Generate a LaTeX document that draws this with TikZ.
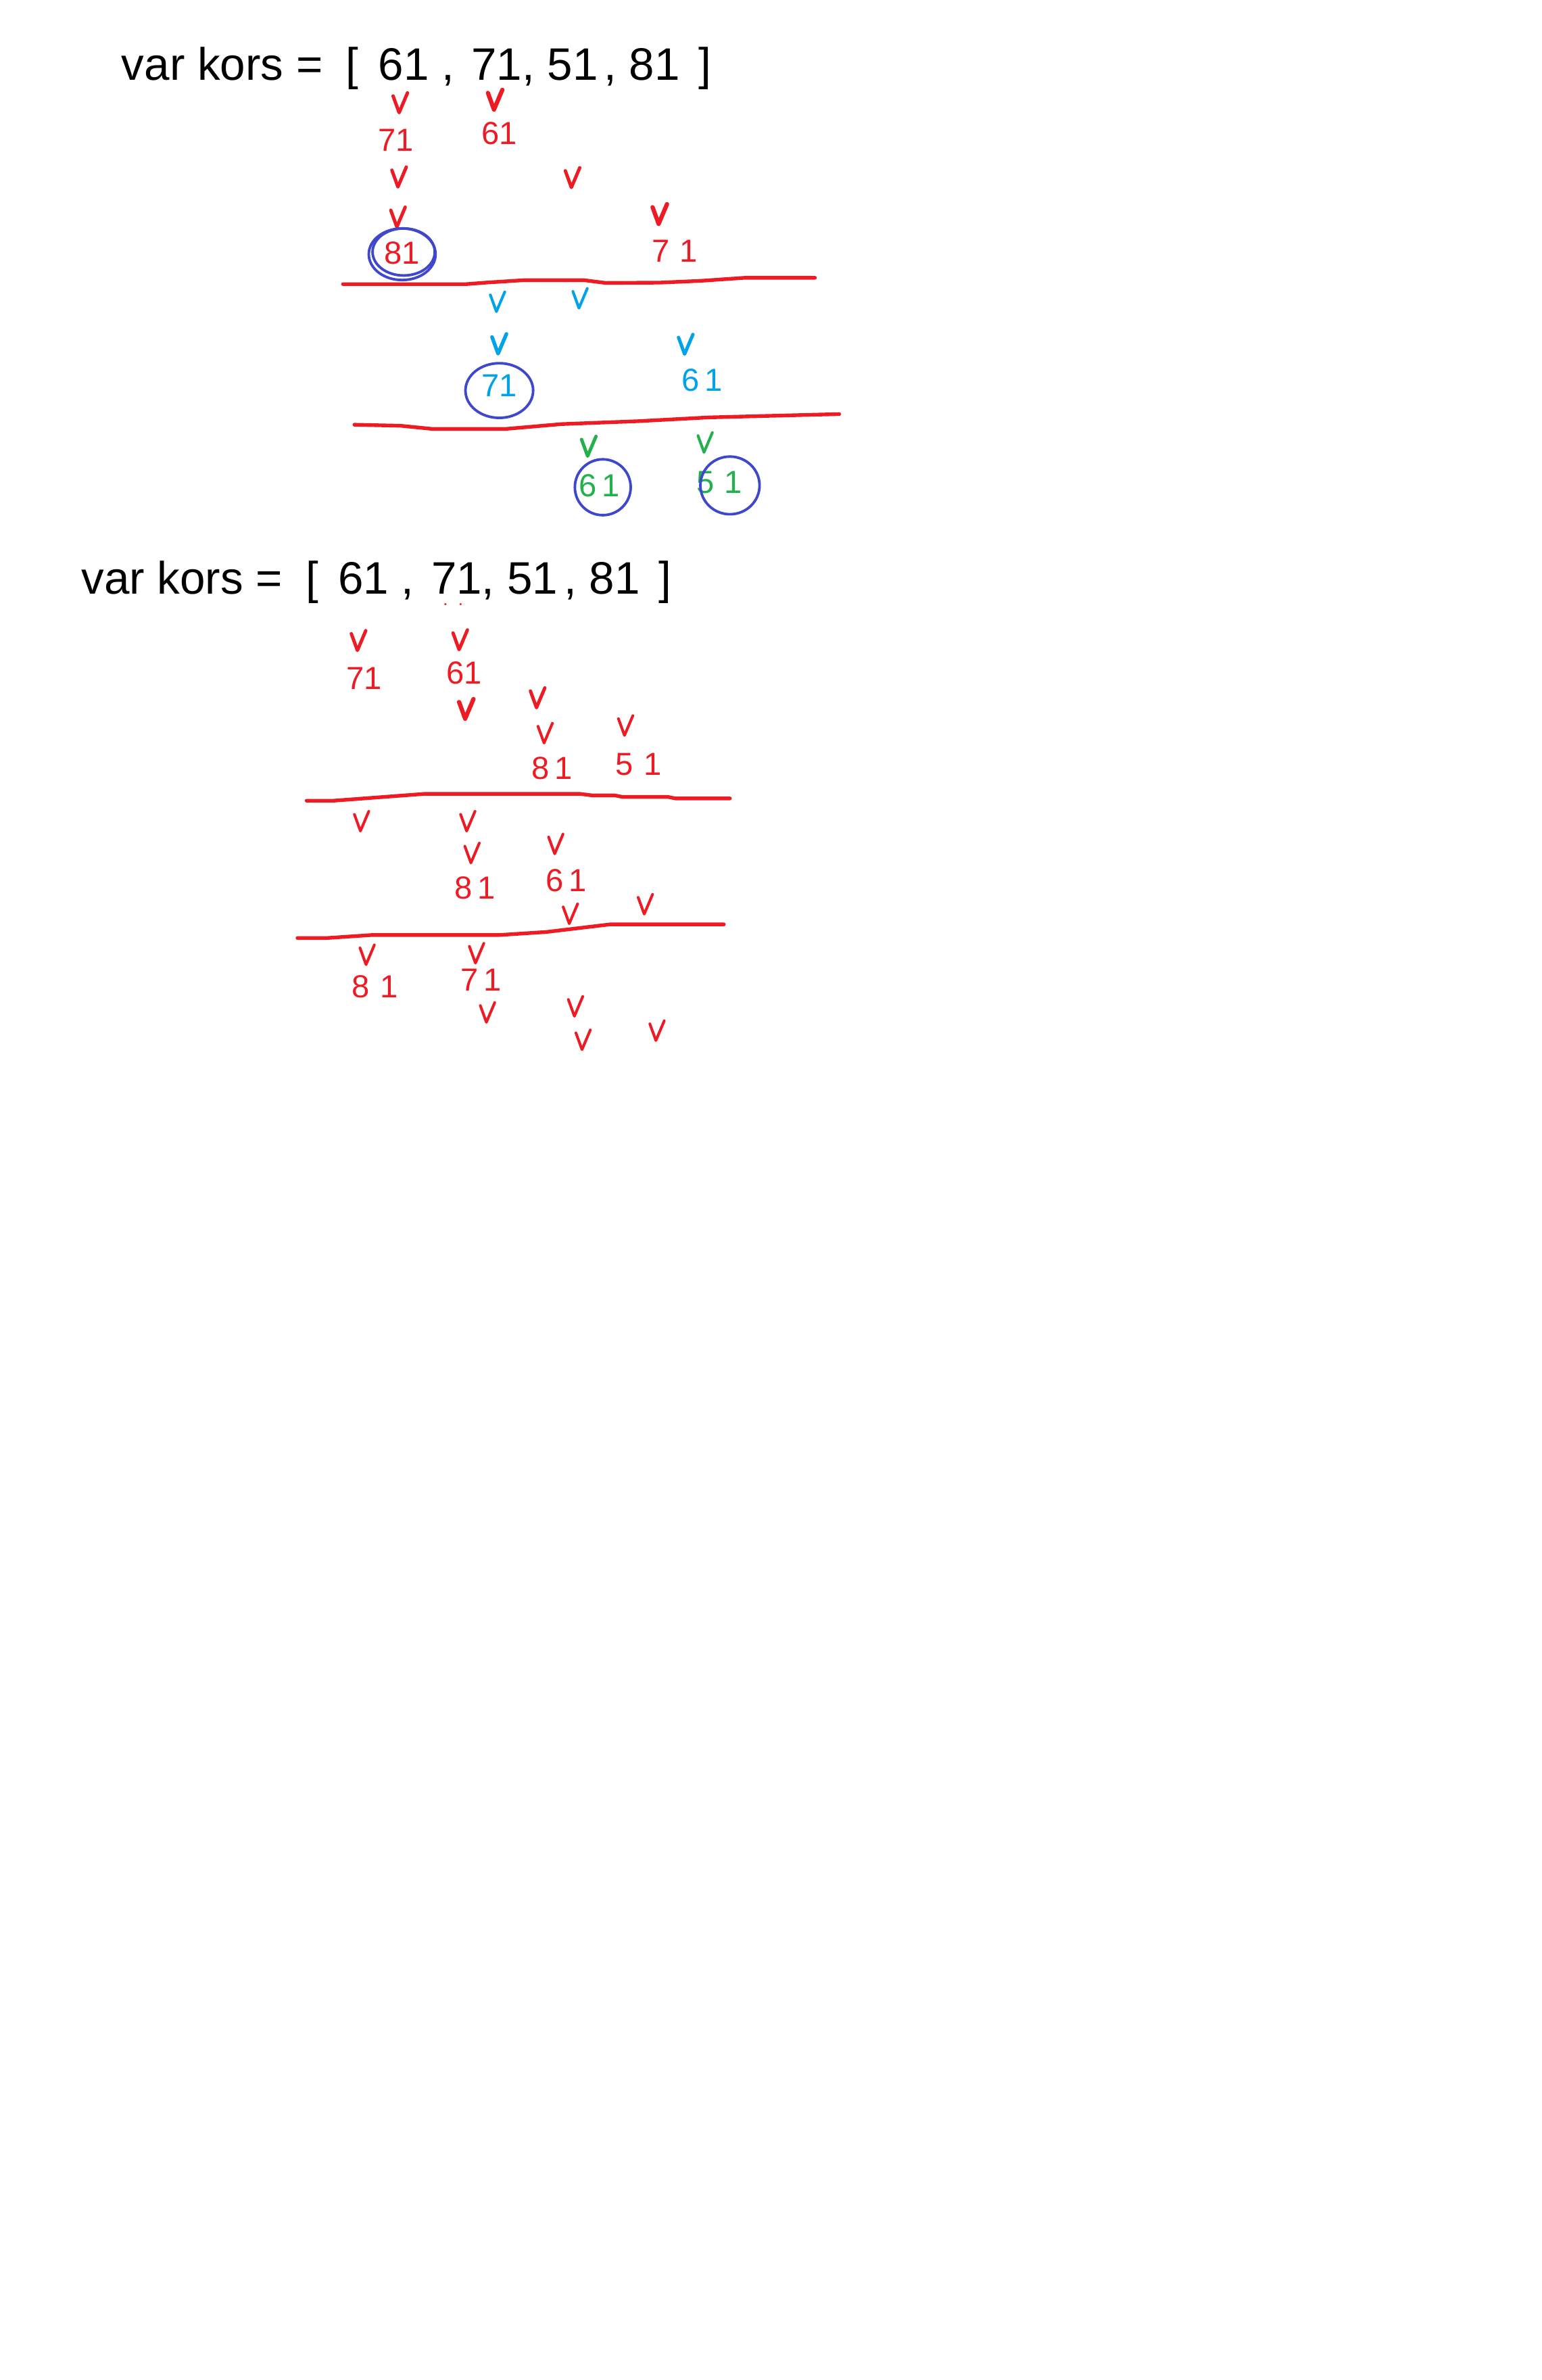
\documentclass[tikz,border=0pt]{standalone}
\usepackage{fontspec}
\setmainfont{Liberation Sans}
\usetikzlibrary{shapes.geometric}
\definecolor{hred}{RGB}{237,28,36}
\definecolor{hblue}{RGB}{63,72,204}
\definecolor{hcyan}{RGB}{0,162,232}
\definecolor{hgreen}{RGB}{34,177,76}
\newcommand\korsline{var kors =\hspace{3.5pt} [\hspace{2.3pt} 61 , \hspace{1.5pt}71, 51\hspace{2pt}, 81 \hspace{2pt}]}
\tikzset{
  title/.style={anchor=base west, inner sep=0pt, font=\fontsize{15}{18}\selectfont},
  num/.style={inner sep=0.5pt, font=\fontsize{10.5}{12}\selectfont},
  rline/.style={draw=hred, line width=1.2pt, line join=round, line cap=round},
  ring/.style={draw=hblue, line width=0.85pt},
  vmark/.pic={\draw[pic actions, line cap=round, line join=round] (-4.5,-4.5) -- (-0.5,6.5) -- (5,-6.5);}
}
\begin{document}
\begin{tikzpicture}[x=0.5pt,y=-0.5pt, line width=0.75pt]
\useasboundingbox[fill=white] (0,0) rectangle (1016,1568);

% ---------- first part ----------
\node[title] (t1) at (79.4,52.7) {\korsline};

\pic[hred, line width=1.1pt] at (263.5,67.7) {vmark};
\pic[hred, line width=1.4pt] at (326,65.7) {vmark};
\node[num, text=hred] (a71) at (261,92.4) {71};
\node[num, text=hred] (a61) at (329,88) {61};
\pic[hred, line width=1.1pt] at (262.7,116.6) {vmark};
\pic[hred, line width=1.1pt] at (377,117) {vmark};
\pic[hred, line width=1.1pt] at (262,143) {vmark};
\pic[hred, line width=1.4pt] at (434.5,141) {vmark};
\node[num, text=hred] (a81) at (265,166.7) {81};
\draw[ring] (265,167.5) ellipse [x radius=22, y radius=17];
\draw[ring] (266,166) ellipse [x radius=20.5, y radius=15.5];
\node[num, text=hred] (a71b) at (444.6,165.6) {7\,\,1};

\draw[rline] (226,187.2) -- (307,187.2) -- (320,186.2) -- (345,184.6) -- (385,184.6) -- (399,186.4) -- (435,186.2) -- (462,185) -- (491,183) -- (537,183);

\pic[hcyan, line width=0.9pt] at (327.6,198.8) {vmark};
\pic[hcyan, line width=0.9pt] at (382,196.5) {vmark};
\pic[hcyan, line width=1.2pt] at (328.7,226.5) {vmark};
\pic[hcyan, line width=1.1pt] at (451.6,226.8) {vmark};
\node[num, text=hcyan] (b71) at (329,254) {71};
\draw[ring] (329,257.3) ellipse [x radius=22.3, y radius=18];
\node[num, text=hcyan] (b61) at (462.6,250.5) {6\,1};

\draw[rline] (233.5,279.8) -- (264,280.5) -- (285,282.6) -- (333,282.6) -- (370,279.4) -- (420,277.5) -- (467,275) -- (506,274) -- (553,272.8);

\pic[hgreen, line width=1.1pt] at (387.7,294) {vmark};
\pic[hgreen, line width=0.9pt] at (464.4,291.5) {vmark};
\node[num, text=hgreen] (c61) at (395,320) {6\,1};
\draw[ring] (397.2,321) ellipse [x radius=18.4, y radius=18.4];
\node[num, text=hgreen] (c51) at (474,318) {5\,\,1};
\draw[ring] (481,319.8) ellipse [x radius=19.5, y radius=19];

% ---------- second part ----------
\node[title] (t2) at (53,391.4) {\korsline};
\fill[hred] (293.5,398) circle [radius=0.8] (303.5,398) circle [radius=0.8];

\pic[hred, line width=1.1pt] at (236,422) {vmark};
\pic[hred, line width=1.1pt] at (303,421.5) {vmark};
\node[num, text=hred] (d71) at (240,446.8) {71};
\node[num, text=hred] (d61) at (305.7,443.3) {61};
\pic[hred, line width=1.4pt] at (307,467) {vmark};
\pic[hred, line width=1.1pt] at (354,459.7) {vmark};
\pic[hred, line width=0.9pt] at (359,483) {vmark};
\pic[hred, line width=0.9pt] at (412,478) {vmark};
\node[num, text=hred] (d81) at (363.7,506) {8\,1};
\node[num, text=hred] (d51) at (420.6,503.6) {5\,\,1};

\draw[rline] (202,527.5) -- (220,527.5) -- (240,526) -- (260,524.5) -- (280,523) -- (382,523) -- (390,524) -- (405,524) -- (410,525) -- (440,525) -- (445,526) -- (481,526);

\pic[hred, line width=0.9pt] at (238,541) {vmark};
\pic[hred, line width=0.9pt] at (308,541) {vmark};
\pic[hred, line width=0.9pt] at (310.8,562) {vmark};
\pic[hred, line width=0.9pt] at (366,556) {vmark};
\node[num, text=hred] (e81) at (313,585) {8\,1};
\node[num, text=hred] (e61) at (373,580) {6\,1};
\pic[hred, line width=0.9pt] at (375.6,602) {vmark};
\pic[hred, line width=0.9pt] at (425,595.7) {vmark};

\draw[rline] (196,618) -- (215,618) -- (245,616) -- (329,616) -- (360,614) -- (402,609) -- (477,609);

\pic[hred, line width=0.9pt] at (241.7,629) {vmark};
\pic[hred, line width=0.9pt] at (313.8,628) {vmark};
\node[num, text=hred] (f81) at (247,650) {8\,\,1};
\node[num, text=hred] (f71) at (316.8,645.5) {7\,1};
\pic[hred, line width=0.9pt] at (321,667) {vmark};
\pic[hred, line width=0.9pt] at (379,663) {vmark};
\pic[hred, line width=0.9pt] at (384,685) {vmark};
\pic[hred, line width=0.9pt] at (432.7,679) {vmark};
\end{tikzpicture}
\end{document}
